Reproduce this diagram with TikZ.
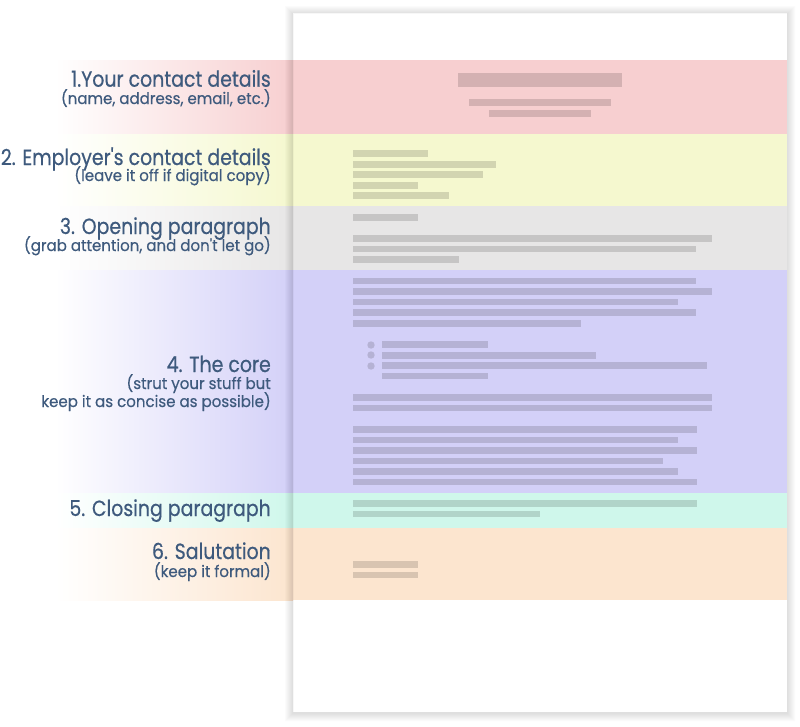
\documentclass[tikz,border=0pt]{standalone}
\usepackage{fontspec}
\setmainfont{Poppins}
\newfontfamily\titlefont[FakeStretch=0.86,FakeBold=0.5]{Poppins}
\newfontfamily\subfont[FakeStretch=0.94,FakeBold=0.4]{Poppins}
\definecolor{txt}{HTML}{3E5A7D}
\definecolor{bred}{HTML}{F7CFD0}
\definecolor{byel}{HTML}{F5F8CF}
\definecolor{bgray}{HTML}{E7E6E6}
\definecolor{bpur}{HTML}{D3D0F8}
\definecolor{bgrn}{HTML}{CFF7EB}
\definecolor{bora}{HTML}{FCE5CF}
\tikzset{
  ttl/.style={anchor=base east, text=txt, inner sep=0pt, font=\titlefont\fontsize{22}{22}\selectfont},
  sub/.style={anchor=base east, text=txt, inner sep=0pt, font=\subfont\fontsize{16}{16}\selectfont},
  bar/.style={fill=black, fill opacity=0.14},
  dot/.style={fill=black, fill opacity=0.14},
}
\begin{document}
\begin{tikzpicture}[x=1pt,y=-1pt]
\useasboundingbox (0,0) rectangle (800,726);
\fill[white] (0,0) rectangle (800,726);
% page
\fill[white] (293,13) rectangle (787,712);
% bands
\foreach \c/\a/\b in {bred/60/134, byel/134/206, bgray/206/270, bpur/270/493, bgrn/493/528, bora/528/600} {
  \fill[\c] (292,\a) rectangle (787,\b);
  \shade[left color=white, right color=\c] (55,\a) rectangle (293,\b);
}
% page shadow
\foreach \i in {1,...,8} {
  \fill[black, fill opacity=0.017, even odd rule] (293-\i,13-\i+1) rectangle (787+\i,712+\i+1) (293,13) rectangle (787,712);
}
% red band bars
\fill[bar] (458,73) rectangle (622,87);
\fill[bar] (469,99) rectangle (611,106);
\fill[bar] (489,110) rectangle (591,117);
% yellow
\fill[bar] (353,150) rectangle (428,157);
\fill[bar] (353,161) rectangle (496,168);
\fill[bar] (353,171) rectangle (483,178);
\fill[bar] (353,182) rectangle (418,189);
\fill[bar] (353,192) rectangle (449,199);
% gray
\fill[bar] (353,214) rectangle (418,221);
\fill[bar] (353,235) rectangle (712,242);
\fill[bar] (353,246) rectangle (696,252);
\fill[bar] (353,256) rectangle (459,263);
% purple
\fill[bar] (353,278) rectangle (696,284);
\fill[bar] (353,288) rectangle (712,295);
\fill[bar] (353,299) rectangle (678,305);
\fill[bar] (353,309) rectangle (696,316);
\fill[bar] (353,320) rectangle (581,327);
\fill[dot] (371,345) circle (3.7);
\fill[dot] (371,355) circle (3.7);
\fill[dot] (371,366) circle (3.7);
\fill[bar] (382,341) rectangle (488,348);
\fill[bar] (382,352) rectangle (596,359);
\fill[bar] (382,362) rectangle (707,369);
\fill[bar] (382,373) rectangle (488,379);
\fill[bar] (353,394) rectangle (712,401);
\fill[bar] (353,405) rectangle (712,411);
\fill[bar] (353,426) rectangle (697,433);
\fill[bar] (353,437) rectangle (678,443);
\fill[bar] (353,447) rectangle (697,454);
\fill[bar] (353,458) rectangle (663,464);
\fill[bar] (353,468) rectangle (678,475);
\fill[bar] (353,479) rectangle (697,485);
% green
\fill[bar] (353,500) rectangle (697,507);
\fill[bar] (353,511) rectangle (540,517);
% orange
\fill[bar] (353,561) rectangle (418,568);
\fill[bar] (353,572) rectangle (418,578);
% labels
\node[ttl] (t1) at (271,86.7) {1.Your contact details};
\node[sub] (s1) at (271,104) {(name, address, email, etc.)};
\node[ttl] (t2) at (271,165) {2. Employer's contact details};
\node[sub] (s2) at (271,181) {(leave it off if digital copy)};
\node[ttl] (t3) at (271,234) {3. Opening paragraph};
\node[sub] (s3) at (271,251) {(grab attention, and don't let go)};
\node[ttl] (t4) at (271,372) {4. The core};
\node[sub] (s4a) at (271,389) {(strut your stuff but};
\node[sub] (s4b) at (271,407) {keep it as concise as possible)};
\node[ttl] (t5) at (271,516) {5. Closing paragraph};
\node[ttl] (t6) at (271,559) {6. Salutation};
\node[sub] (s6) at (271,577) {(keep it formal)};
\end{tikzpicture}
\end{document}
